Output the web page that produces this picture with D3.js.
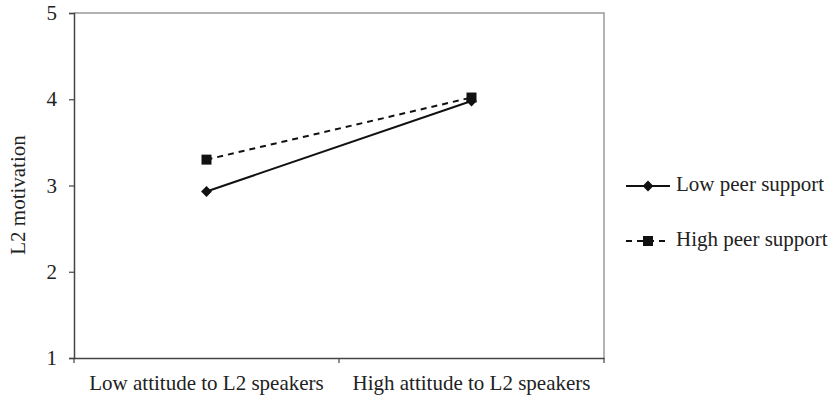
<!DOCTYPE html>
<html><head><meta charset="utf-8">
<script src="https://cdn.jsdelivr.net/npm/d3@7"></script>
<style>body{margin:0;background:#fff}</style>
</head><body>
<svg id="chart" width="828" height="400"></svg>
<script>
const categories = ["Low attitude to L2 speakers", "High attitude to L2 speakers"];
const seriesNames = ["Low peer support", "High peer support"];
const lowPeer = [2.93, 3.98];
const highPeer = [3.30, 4.02];
const yTicks = [1, 2, 3, 4, 5];
const yTitle = "L2 motivation";

const svg = d3.select("#chart");
const font = "'Liberation Serif', 'Times New Roman', serif";
const fs = 21;
const m = {left: 74, right: 604, top: 13, bottom: 358};

const x = d3.scaleBand().domain(categories).range([m.left, m.right]);
const y = d3.scaleLinear().domain([1, 5]).range([m.bottom, m.top]);

// plot border (top, right)
svg.append("path")
  .attr("d", `M${m.left},${m.top}H${m.right}V${m.bottom}`)
  .attr("fill", "none").attr("stroke", "#999").attr("stroke-width", 1.5);

// y axis
const ya = svg.append("g").attr("transform", `translate(${m.left},0)`)
  .call(d3.axisLeft(y).tickValues(yTicks).tickFormat(d3.format("d")).tickSizeOuter(0).tickSize(5).tickPadding(12));
ya.select(".domain").attr("stroke", "#444").attr("stroke-width", 1.5);
ya.selectAll(".tick line").attr("stroke", "#444").attr("stroke-width", 1.2);
ya.selectAll("text").attr("font-family", font).attr("font-size", fs).attr("fill", "#222");

// x axis
const xa = svg.append("g").attr("transform", `translate(0,${m.bottom})`)
  .call(d3.axisBottom(x).tickSize(0).tickPadding(17).tickSizeOuter(0));
xa.select(".domain").attr("stroke", "#444").attr("stroke-width", 1.5);
xa.selectAll("text").attr("font-family", font).attr("font-size", fs).attr("fill", "#222");
// boundary ticks
const bounds = [m.left, x(categories[1]), m.right];
xa.selectAll(".btick").data(bounds).join("line")
  .attr("x1", d => d).attr("x2", d => d).attr("y1", 0).attr("y2", 5)
  .attr("stroke", "#444").attr("stroke-width", 1.2);

// y title
svg.append("text")
  .attr("transform", `translate(20,195) rotate(-90)`)
  .attr("text-anchor", "middle").attr("dominant-baseline", "middle")
  .attr("font-family", font).attr("font-size", fs).attr("fill", "#222")
  .text(yTitle);

const cx = c => x(c) + x.bandwidth() / 2;
const line = d3.line().x((d, i) => cx(categories[i])).y(d => y(d));

const diamond = d3.symbol().type(d3.symbolDiamond2).size(75);
const square = d3.symbol().type(d3.symbolSquare).size(100);

// Low peer support
svg.append("path").datum(lowPeer).attr("d", line)
  .attr("fill", "none").attr("stroke", "#111").attr("stroke-width", 2);
svg.selectAll(".lp").data(lowPeer).join("path")
  .attr("transform", (d, i) => `translate(${cx(categories[i])},${y(d)})`)
  .attr("d", diamond).attr("fill", "#111");

// High peer support
svg.append("path").datum(highPeer).attr("d", line)
  .attr("fill", "none").attr("stroke", "#111").attr("stroke-width", 2).attr("stroke-dasharray", "6,5");
svg.selectAll(".hp").data(highPeer).join("path")
  .attr("transform", (d, i) => `translate(${cx(categories[i])},${y(d)})`)
  .attr("d", square).attr("fill", "#111");

// legend
const legY = [186, 241];
seriesNames.forEach((name, i) => {
  const g = svg.append("g").attr("transform", `translate(0,${legY[i]})`);
  g.append("line").attr("x1", 626).attr("x2", 670).attr("y1", 0).attr("y2", 0)
    .attr("stroke", "#111").attr("stroke-width", 2)
    .attr("stroke-dasharray", i === 1 ? "6,5" : null);
  g.append("path").attr("transform", "translate(648,0)")
    .attr("d", i === 0 ? diamond() : square())
    .attr("fill", "#111");
  g.append("text").attr("x", 676).attr("y", 0).attr("dominant-baseline", "middle")
    .attr("font-family", font).attr("font-size", fs).attr("fill", "#222").text(name);
});
</script>
</body></html>
